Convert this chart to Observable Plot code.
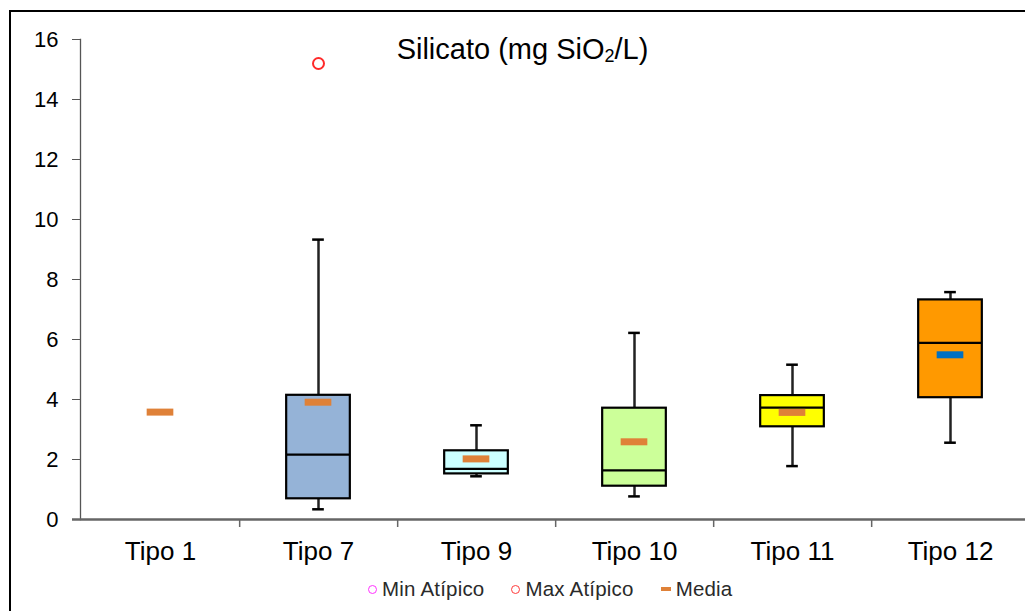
<!DOCTYPE html>
<html>
<head>
<meta charset="utf-8">
<script src="https://cdn.jsdelivr.net/npm/d3@7"></script>
<script src="https://cdn.jsdelivr.net/npm/@observablehq/plot@0.6"></script>
<style>
  html, body { margin: 0; padding: 0; background: #fff; overflow: hidden; width: 1025px; height: 611px; }
  #wrap { position: relative; width: 1025px; height: 611px; font-family: "Liberation Sans", Arial, sans-serif; }
  #frame { position: absolute; left: 9px; top: 10px; width: 1100px; height: 700px; border: 2.5px solid #000; pointer-events: none; }
  #title { position: absolute; left: 0; width: 1045px; text-align: center; top: 35px; font-size: 29px; line-height: 1; color: #000; }
  #title sub { font-size: 0.62em; vertical-align: -0.18em; line-height: 0; }
  #legend { position: absolute; top: 579px; left: 368px; display: flex; align-items: center; font-size: 20.5px; line-height: 1; color: #2a2a2a; white-space: nowrap; letter-spacing: 0.2px; }
  #legend .ring { display: inline-block; width: 7px; height: 7px; border-radius: 50%; border: 1.7px solid; margin-right: 5px; }
  #legend .dash { display: inline-block; width: 10px; height: 4px; margin-right: 5px; }
  #legend .item { display: flex; align-items: center; margin-right: 27px; }
</style>
</head>
<body>
<div id="wrap">
  <div id="chart"></div>
  <div id="title">Silicato (mg SiO<sub>2</sub>/L)</div>
  <div id="legend">
    <span class="item"><span class="ring" style="border-color:#FF33FF"></span>Min Atípico</span>
    <span class="item"><span class="ring" style="border-color:#FF3B3B"></span>Max Atípico</span>
    <span class="item"><span class="dash" style="background:#DF8138"></span>Media</span>
  </div>
  <div id="frame"></div>
</div>
<script>
// ---- data ----
const tipos = ["Tipo 1", "Tipo 7", "Tipo 9", "Tipo 10", "Tipo 11", "Tipo 12"];
const whiskerLow  = [null, 0.34, 1.44, 0.77, 1.78, 2.56];
const q1          = [null, 0.69, 1.52, 1.11, 3.09, 4.06];
const median      = [null, 2.16, 1.69, 1.64, 3.73, 5.89];
const q3          = [null, 4.14, 2.29, 3.71, 4.13, 7.32];
const whiskerHigh = [null, 9.33, 3.14, 6.22, 5.16, 7.58];
const means       = [3.58, 3.91, 2.02, 2.59, 3.57, 5.49];
const outlierTipos  = ["Tipo 7"];
const outlierValues = [15.2];
const yTicks = [0, 2, 4, 6, 8, 10, 12, 14, 16];

// ---- tables ----
const boxes = tipos.map((t, i) => ({tipo: t, lo: whiskerLow[i], q1: q1[i], med: median[i], q3: q3[i], hi: whiskerHigh[i]}))
  .filter(d => d.q1 != null);
const meanRows = tipos.map((t, i) => ({tipo: t, mean: means[i]}));
const outliers = outlierTipos.map((t, i) => ({tipo: t, value: outlierValues[i]}));

const W = 1025, H = 570;
const x0 = 80, x1 = 1030;
const bw = (x1 - x0) / tipos.length;
const boxW = 64, capW = 12, meanW = 27;
const boxInset = (bw - boxW) / 2, capInset = (bw - capW) / 2, meanInset = (bw - meanW) / 2;
const boxFill = {"Tipo 7": "#95B3D7", "Tipo 9": "#CCFFFF", "Tipo 10": "#CCFF99", "Tipo 11": "#FFFF00", "Tipo 12": "#FF9900"};

const chart = Plot.plot({
  width: W,
  height: H,
  marginTop: 39,
  marginBottom: 51,
  marginLeft: x0,
  marginRight: 0,
  style: {fontFamily: "'Liberation Sans', Arial, sans-serif", background: "transparent", overflow: "visible"},
  x: {domain: tipos, range: [x0, x1], padding: 0},
  y: {domain: [0, 16], range: [519, 39]},
  marks: [
    Plot.axisY({ticks: yTicks, tickSize: 8, tickPadding: 14, fontSize: 22, stroke: "#555", color: "#000", label: null}),
    Plot.axisX({tickSize: 0, tickPadding: 22, fontSize: 26, color: "#000", label: null}),
    Plot.frame({anchor: "left", stroke: "#555", strokeWidth: 1.3}),
    Plot.ruleY([0], {stroke: "#666", strokeWidth: 2.5, insetLeft: -8}),
    Plot.ruleX(tipos.slice(0, -1), {x: d => d, dx: bw / 2, y1: 0, y2: 0, insetBottom: -8, stroke: "#666", strokeWidth: 1.5}),
    // whiskers
    Plot.ruleX(boxes, {x: "tipo", y1: "lo", y2: "q1", stroke: "#222", strokeWidth: 2.5}),
    Plot.ruleX(boxes, {x: "tipo", y1: "q3", y2: "hi", stroke: "#222", strokeWidth: 2.5}),
    Plot.tickY(boxes, {x: "tipo", y: "lo", stroke: "#000", strokeWidth: 2.5, insetLeft: capInset, insetRight: capInset}),
    Plot.tickY(boxes, {x: "tipo", y: "hi", stroke: "#000", strokeWidth: 2.5, insetLeft: capInset, insetRight: capInset}),
    // boxes
    Plot.barY(boxes, {x: "tipo", y1: "q1", y2: "q3", fill: d => boxFill[d.tipo], stroke: "#000", strokeWidth: 2.2, insetLeft: boxInset, insetRight: boxInset}),
    Plot.tickY(boxes, {x: "tipo", y: "med", stroke: "#000", strokeWidth: 2.2, insetLeft: boxInset, insetRight: boxInset}),
    // means
    Plot.tickY(meanRows.filter(d => d.tipo !== "Tipo 12"), {x: "tipo", y: "mean", stroke: "#DF8138", strokeWidth: 7, insetLeft: meanInset, insetRight: meanInset}),
    Plot.tickY(meanRows.filter(d => d.tipo === "Tipo 12"), {x: "tipo", y: "mean", stroke: "#0070C0", strokeWidth: 7, insetLeft: meanInset, insetRight: meanInset}),
    // outliers
    Plot.dot(outliers, {x: "tipo", y: "value", r: 5.5, stroke: "#FF2A2A", strokeWidth: 2, fill: "none"})
  ]
});
document.getElementById("chart").appendChild(chart);
</script>
</body>
</html>
